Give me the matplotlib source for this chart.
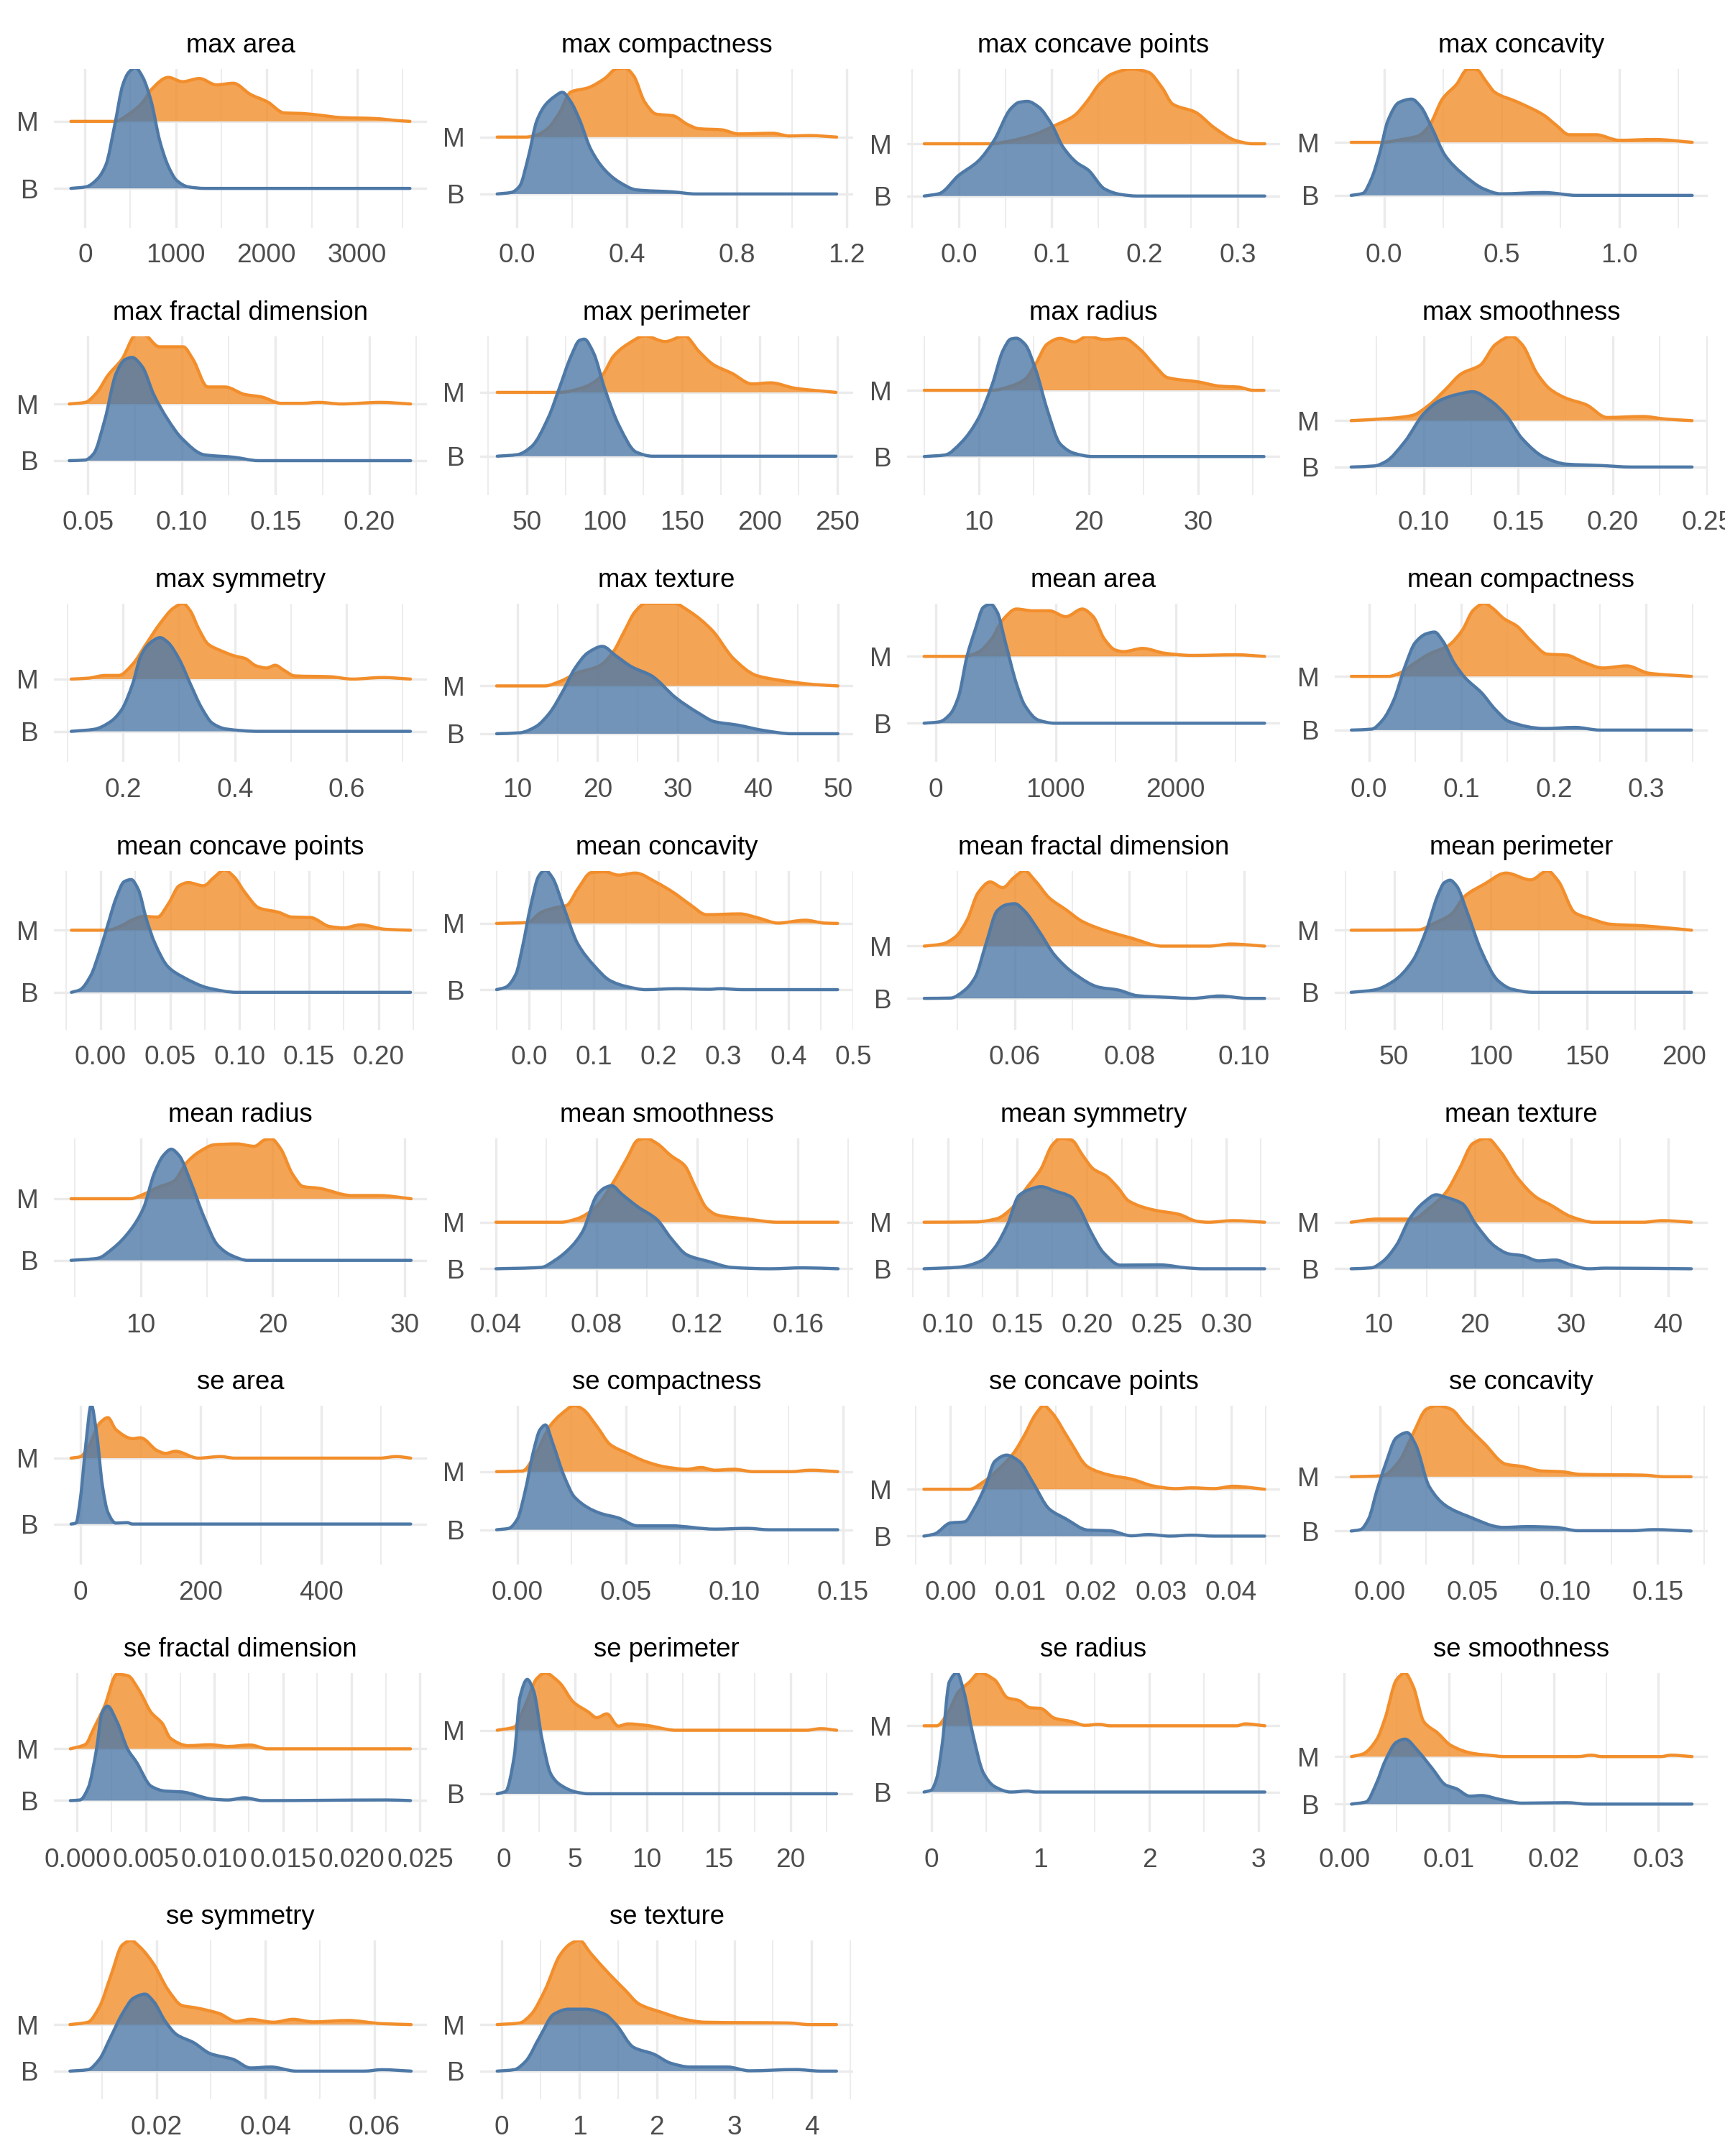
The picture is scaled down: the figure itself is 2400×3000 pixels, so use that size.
import matplotlib
matplotlib.use('Agg')
import matplotlib.pyplot as plt
from matplotlib.patches import PathPatch
from matplotlib.path import Path
import numpy as np

plt.rcParams['font.family'] = ['Liberation Sans', 'DejaVu Sans']

# panel keys in reading order
keys = ['max_area', 'max_compactness', 'max_concave_points', 'max_concavity',
        'max_fractal_dimension', 'max_perimeter', 'max_radius', 'max_smoothness',
        'max_symmetry', 'max_texture', 'mean_area', 'mean_compactness',
        'mean_concave_points', 'mean_concavity', 'mean_fractal_dimension', 'mean_perimeter',
        'mean_radius', 'mean_smoothness', 'mean_symmetry', 'mean_texture',
        'se_area', 'se_compactness', 'se_concave_points', 'se_concavity',
        'se_fractal_dimension', 'se_perimeter', 'se_radius', 'se_smoothness',
        'se_symmetry', 'se_texture']

xlims = [(-343, 3767), (-.134, 1.223), (-.0555, .3455), (-.21, 1.376),
         (.0318, .2307), (20, 260), (3.43, 37.47), (.0529, .2503),
         (.076, .7435), (5.34, 51.9), (-238, 2870), (-.037, .3666),
         (-.0336, .2348), (-.0754, .5), (.0412, .1063), (19.3, 212.4),
         (3.4, 31.7), (.0337, .182), (.0708, .3387), (5.5, 44.1),
         (-44, 576), (-.0172, .1547), (-.0062, .047), (-.0243, .177),
         (-.0017, .0255), (-1.62, 24.35), (-.222, 3.2), (-.0009, .0347),
         (.00115, .0697), (-.28, 4.535)]

tick_labels = [['0', '1000', '2000', '3000'], ['0.0', '0.4', '0.8', '1.2'],
               ['0.0', '0.1', '0.2', '0.3'], ['0.0', '0.5', '1.0'],
               ['0.05', '0.10', '0.15', '0.20'], ['50', '100', '150', '200', '250'],
               ['10', '20', '30'], ['0.10', '0.15', '0.20', '0.25'],
               ['0.2', '0.4', '0.6'], ['10', '20', '30', '40', '50'],
               ['0', '1000', '2000'], ['0.0', '0.1', '0.2', '0.3'],
               ['0.00', '0.05', '0.10', '0.15', '0.20'], ['0.0', '0.1', '0.2', '0.3', '0.4', '0.5'],
               ['0.06', '0.08', '0.10'], ['50', '100', '150', '200'],
               ['10', '20', '30'], ['0.04', '0.08', '0.12', '0.16'],
               ['0.10', '0.15', '0.20', '0.25', '0.30'], ['10', '20', '30', '40'],
               ['0', '200', '400'], ['0.00', '0.05', '0.10', '0.15'],
               ['0.00', '0.01', '0.02', '0.03', '0.04'], ['0.00', '0.05', '0.10', '0.15'],
               ['0.000', '0.005', '0.010', '0.015', '0.020', '0.025'], ['0', '5', '10', '15', '20'],
               ['0', '1', '2', '3'], ['0.00', '0.01', '0.02', '0.03'],
               ['0.02', '0.04', '0.06'], ['0', '1', '2', '3', '4']]

# baselines of the ridges, % of panel height
m_base = [66.8, 56.9, 52.7, 53.6, 57.2, 64.5, 65.8, 46.7, 52.3, 48.0,
          66.6, 54.0, 62.5, 66.8, 52.5, 62.5, 62.0, 47.2, 47.2, 47.2,
          67.0, 58.5, 47.4, 55.3, 52.3, 64.0, 66.8, 47.4, 47.0, 47.0]
b_base = [24.6, 21.1, 19.8, 20.2, 21.5, 24.3, 24.1, 17.5, 19.4, 17.9,
          24.5, 20.2, 23.4, 25.1, 19.6, 23.4, 23.2, 17.9, 17.9, 17.9,
          25.5, 21.9, 17.9, 21.1, 19.7, 24.0, 25.1, 17.5, 17.7, 17.7]

# ridge curves: x in data units, h in % of panel height above baseline
max_area_m_x = [-156, 324, 511, 636, 730, 917, 1073, 1260, 1447, 1634, 1822, 2009, 2196, 2383, 2570, 2820, 3194, 3443, 3580]
max_area_m_h = [0, 0, 5.7, 12, 20, 27.7, 25, 27, 23, 24, 17, 12.3, 5.3, 5, 4, 2.4, 1.8, .5, 0]
max_area_b_x = [-156, 12, 137, 231, 324, 418, 480, 555, 636, 730, 823, 917, 1010, 1135, 1322, 3580]
max_area_b_h = [0, 1, 6, 15, 39, 65.5, 73, 76, 70, 54.5, 30, 14, 5, 1, 0, 0]

max_compactness_m_x = [-.072, .031, .072, .114, .155, .196, .258, .32, .362, .393, .424, .465, .506, .568, .62, .661, .744, .806, .93, .992, 1.064, 1.163]
max_compactness_m_h = [0, 0, 1.3, 5.7, 15.4, 28.4, 31, 37, 43, 43.5, 38.7, 22, 14.5, 13.4, 8, 5.3, 4.6, 2, 2.4, .7, 1, 0]
max_compactness_b_x = [-.072, -.02, .01, .041, .072, .103, .134, .165, .196, .227, .269, .32, .372, .434, .568, .651, 1.163]
max_compactness_b_h = [0, 1, 5, 23, 46, 56, 61, 64, 58, 47, 28, 15, 7.5, 2.6, 1.3, 0, 0]

max_concave_points_m_x = [-.037, .035, .053, .08, .103, .124, .139, .151, .165, .186, .204, .219, .23, .254, .275, .298, .316, .329]
max_concave_points_m_h = [0, 0, 1.5, 5.5, 11.4, 17.6, 27.5, 37.4, 44, 47, 45, 35, 25, 20, 10, 2, 0, 0]
max_concave_points_b_x = [-.037, -.021, 0, .021, .038, .056, .065, .074, .086, .1, .112, .127, .139, .157, .174, .192, .329]
max_concave_points_b_h = [0, 1.5, 13, 22, 35, 55, 59, 59.6, 56, 45, 31, 21, 16.5, 4.4, 1, 0, 0]

max_concavity_m_x = [-.14, -.007, .075, .145, .19, .25, .308, .355, .39, .437, .47, .565, .68, .73, .787, .9, 1.0, 1.15, 1.31]
max_concavity_m_h = [0, 0, 1.8, 4, 10, 27.7, 36.5, 46, 46, 37.6, 31.6, 25.5, 17, 11, 4.8, 4.8, 1.3, 1.8, 0]
max_concavity_b_x = [-.14, -.09, -.054, -.02, .016, .063, .117, .157, .2, .26, .33, .425, .495, .68, .82, 1.31]
max_concavity_b_h = [0, 1.3, 10.5, 26, 47, 58.5, 60.6, 55.6, 43.5, 25, 14, 4, 1, 1.8, 0, 0]

max_fractal_dimension_m_x = [.04, .0485, .0546, .0606, .068, .0758, .0795, .088, .094, .1007, .106, .1138, .123, .1335, .1426, .153, .164, .173, .185, .206, .222]
max_fractal_dimension_m_h = [0, 1, 7, 18, 28, 43.7, 43.7, 36, 36, 36, 28, 10.7, 10.7, 6, 4.4, .4, .4, 1, 0, 1, 0]
max_fractal_dimension_b_x = [.04, .0485, .053, .059, .065, .0697, .0734, .079, .085, .0925, .1, .112, .1275, .141, .222]
max_fractal_dimension_b_h = [0, .4, 4.4, 26, 55, 63.6, 65, 59, 41.7, 26, 14, 3.7, 2.2, 0, 0]

max_perimeter_m_x = [31, 71, 87.6, 98.5, 106, 115, 126, 139, 151.5, 160.6, 170, 182, 195, 207, 222.6, 249]
max_perimeter_m_h = [0, 0, 3.5, 10.7, 23, 30.4, 35.5, 32, 35.5, 26, 17.5, 12, 5.3, 6, 2.6, 0]
max_perimeter_b_x = [31, 44, 53, 64, 71, 78.5, 84, 87, 93, 100, 109.5, 120.4, 131, 249]
max_perimeter_b_h = [0, 1, 6, 24.6, 43, 63, 73, 73.7, 65, 43, 19, 2.6, 0, 0]

max_radius_m_x = [5, 11.2, 12.9, 14.2, 15.2, 16.2, 17.4, 18.7, 19.9, 21.4, 23.2, 24.7, 26, 27.2, 30, 32, 33.7, 35, 36]
max_radius_m_h = [0, 0, 2.6, 7, 17, 29, 32.7, 30.5, 34, 32, 32.7, 25.7, 15.8, 8, 5.3, 2.6, 2, 0, 0]
max_radius_b_x = [5, 6.9, 8.4, 9.9, 11.2, 12.2, 12.9, 13.4, 14.2, 15.2, 16.2, 17.4, 18.7, 20.4, 36]
max_radius_b_h = [0, 1, 9, 23.5, 45.4, 67, 74, 74.5, 70.6, 54, 30, 8, 2, 0, 0]

max_smoothness_m_x = [.0616, .0826, .094, .103, .1116, .12, .13, .138, .1465, .152, .16, .167, .1756, .186, .197, .216, .228, .242]
max_smoothness_m_h = [0, 1.5, 3.3, 10, 19.7, 29.6, 35, 48, 53, 48, 29.6, 19.7, 14, 10, 2, 2.6, 1, 0]
max_smoothness_b_x = [.0616, .074, .08, .09, .1, .1087, .1174, .126, .135, .1436, .152, .164, .1756, .193, .21, .242]
max_smoothness_b_h = [0, .7, 3.5, 16, 33.5, 42, 45.6, 47.4, 42, 32.5, 18, 6, 1.8, 1, 0, 0]

max_symmetry_m_x = [.107, .138, .168, .192, .217, .241, .266, .29, .307, .32, .335, .352, .374, .4, .418, .438, .457, .472, .487, .507, .57, .61, .664, .714]
max_symmetry_m_h = [0, .6, 2.3, 2.3, 9.4, 22, 35, 44.7, 47.6, 43, 31.7, 22, 18, 14.5, 13, 8.3, 7, 8.7, 5.7, 2, 1.5, 0, 1, 0]
max_symmetry_b_x = [.107, .148, .177, .197, .217, .231, .246, .266, .28, .3, .32, .34, .36, .384, .443, .714]
max_symmetry_b_h = [0, 1.3, 6, 13.5, 30, 47, 55, 59, 56, 45.5, 30, 15, 5, 1.5, 0, 0]

max_texture_m_x = [7.4, 13.4, 15.4, 17.5, 20.2, 21.9, 23.3, 24.7, 26, 29.5, 31.5, 34.3, 37, 39.8, 42.2, 47, 50]
max_texture_m_h = [0, 0, 3, 8.3, 12.5, 21, 34, 46.8, 52, 52, 46.8, 35, 17, 6.6, 4, .9, 0]
max_texture_b_x = [7.4, 10.3, 12.3, 14, 15.8, 17.1, 18.8, 20.6, 22.3, 24.3, 26.7, 29.8, 32.6, 34.6, 37.4, 40.8, 44.2, 50]
max_texture_b_h = [0, .6, 4.5, 13, 28, 40.6, 51, 55, 49, 42, 36.6, 22.5, 13, 7.6, 5.5, 2, 0, 0]

mean_area_m_x = [-96, 238, 352, 467, 558, 673, 810, 947, 1085, 1222, 1313, 1405, 1497, 1565, 1725, 1908, 2137, 2503, 2741]
mean_area_m_h = [0, 0, 2.5, 11, 22.8, 29.8, 28.7, 28.7, 25, 29.8, 25, 11, 4, 3, 5, 2, .6, 1, 0]
mean_area_b_x = [-96, 32, 124, 192, 261, 330, 398, 458, 513, 581, 673, 741, 856, 993, 2741]
mean_area_b_h = [0, .9, 6, 17, 42, 59, 73, 75, 70, 51, 25, 11.5, 2, 0, 0]

mean_compactness_m_x = [-.019, .021, .036, .048, .065, .086, .101, .113, .125, .134, .146, .16, .175, .193, .214, .232, .253, .279, .303, .349]
mean_compactness_m_h = [0, 0, 2.8, 7.7, 14, 19.4, 29, 41.7, 46, 42.8, 36.4, 31.7, 22.5, 14, 13.4, 9, 5.3, 6.6, 2, 0]
mean_compactness_b_x = [-.019, .003, .015, .027, .039, .05, .062, .071, .08, .092, .104, .122, .137, .152, .19, .223, .25, .349]
mean_compactness_b_h = [0, .6, 6.4, 19, 40, 55, 60.6, 61.7, 56, 42.5, 33, 23.4, 12.8, 5.3, 1, 1.7, 0, 0]

mean_concave_points_m_x = [-.021, .005, .015, .023, .031, .041, .049, .0565, .063, .074, .082, .089, .096, .104, .114, .128, .1375, .151, .165, .175, .187, .205, .223]
mean_concave_points_m_h = [0, 0, 2.8, 6.6, 8.7, 8.3, 17, 28, 30, 28, 33.6, 38, 33.6, 23.6, 14, 11.3, 8.3, 8, 2.3, 1.5, 3.4, .6, 0]
mean_concave_points_b_x = [-.021, -.015, -.007, -.001, .005, .011, .017, .022, .027, .033, .039, .0486, .0585, .078, .098, .223]
mean_concave_points_b_h = [0, 1.5, 10.7, 25, 42, 59, 69.7, 71, 65, 46, 31, 16, 10, 2.6, 0, 0]

mean_concavity_m_x = [-.05, -.002, .019, .04, .058, .075, .096, .117, .138, .164, .197, .223, .248, .274, .325, .354, .384, .426, .456, .476]
mean_concavity_m_h = [0, .6, 7, 9.8, 11.3, 21.5, 32, 32.5, 30.4, 31.7, 25.7, 19.4, 12, 5.5, 6, 3.4, .2, 2, .2, 0]
mean_concavity_b_x = [-.05, -.036, -.02, -.01, .0025, .015, .025, .036, .053, .075, .1, .125, .15, .18, .227, .278, .295, .329, .476]
mean_concavity_b_h = [0, 1.5, 10, 27, 52.5, 71.5, 75.3, 70.6, 52.5, 29, 15.3, 5.7, 2, 0, .6, .2, .6, 0, 0]

mean_fractal_dimension_m_x = [.0442, .0473, .0497, .0517, .0536, .0557, .0579, .0598, .0617, .0636, .066, .0689, .0718, .0756, .0804, .0857, .0939, .0977, .1036]
mean_fractal_dimension_m_h = [0, 1.3, 6, 16.6, 33.6, 40.4, 36.8, 43, 47.4, 41, 30.4, 23, 15.5, 10, 5, 0, 0, 1.3, 0]
mean_fractal_dimension_b_x = [.0442, .0488, .0512, .0531, .055, .0569, .0586, .06, .0617, .0641, .067, .0704, .0747, .078, .0814, .0871, .091, .0958, .1006, .1036]
mean_fractal_dimension_b_h = [0, .2, 5, 13.4, 34.7, 55, 59, 59.6, 55, 43, 27, 15.5, 7, 5.3, 1.7, .6, 0, 1.5, 0, 0]

mean_perimeter_m_x = [27.8, 62.5, 71, 79.6, 86.7, 96.7, 108, 120.8, 129.4, 135, 143.6, 152, 162, 179, 193, 204]
mean_perimeter_m_h = [0, .2, 4.5, 10, 21.5, 29, 36, 31.7, 37.4, 31, 11, 7.2, 3.8, 2.8, 1.3, 0]
mean_perimeter_b_x = [27.8, 39.8, 49.7, 59.7, 66.8, 72.5, 76, 79, 82.4, 88, 95, 103.8, 111, 122, 204]
mean_perimeter_b_h = [0, 1.5, 7, 20, 39.4, 60.6, 69, 70.6, 67, 50, 26.6, 7.4, 2, 0, 0]

mean_radius_m_x = [4.7, 9.2, 10.2, 11.25, 12.5, 13.5, 14.4, 15.6, 17.3, 18.6, 19.4, 19.9, 20.6, 21.5, 22.3, 23.5, 26, 28.1, 30.5]
mean_radius_m_h = [0, 0, 2.8, 7, 11, 23, 29.4, 34, 34.5, 33, 37, 37.6, 31.5, 15.5, 7.7, 6.6, 2, 2, 0]
mean_radius_b_x = [4.7, 6.7, 7.9, 9.2, 10.2, 11, 11.7, 12.3, 12.9, 13.75, 14.8, 15.8, 16.9, 18.1, 30.5]
mean_radius_b_h = [0, 1.3, 7.7, 19, 33, 54.5, 66, 70, 66, 50, 27, 9.8, 3, 0, 0]

mean_smoothness_m_x = [.04, .0658, .0724, .08, .0866, .092, .0964, .0997, .104, .1095, .115, .1193, .1237, .128, .14, .152, .176]
mean_smoothness_m_h = [0, 0, 2.3, 10, 25, 40, 51.7, 52.8, 49.6, 42, 35.7, 22, 9, 4.5, 2, 0, 0]
mean_smoothness_b_x = [.04, .058, .0636, .07, .0745, .08, .0833, .086, .09, .0964, .104, .1095, .116, .1248, .1335, .149, .162, .176]
mean_smoothness_b_h = [0, .9, 5.5, 14, 23.6, 46, 51, 52.3, 47, 39, 31, 19.4, 8.7, 4.5, .9, 0, .6, 0]

mean_symmetry_m_x = [.083, .12, .1355, .145, .157, .167, .175, .181, .189, .197, .2045, .214, .222, .23, .248, .266, .279, .287, .305, .3276]
mean_symmetry_m_h = [0, .2, 2.3, 8, 22, 33.6, 48.5, 52.8, 51.7, 42, 33.6, 29, 22, 13.4, 7.7, 5, .6, 0, 1, 0]
mean_symmetry_b_x = [.083, .108, .124, .1335, .143, .151, .159, .167, .177, .189, .195, .2026, .212, .224, .252, .2716, .2834, .3276]
mean_symmetry_b_h = [0, 1, 5, 13, 28, 46, 50, 51.7, 49, 45, 37.4, 23.6, 10, 2.3, 2.5, .6, 0, 0]

mean_texture_m_x = [7.2, 9.9, 13.6, 15.3, 17, 18.4, 19.8, 21.25, 22.7, 24.4, 26.4, 27.8, 30, 32.3, 37.4, 39.4, 42.4]
mean_texture_m_h = [0, 2, 2, 9, 18.7, 33.6, 49.6, 52.8, 44, 28, 15.5, 11, 3.4, 0, 0, 1, 0]
mean_texture_b_x = [7.2, 9.3, 10.45, 11.9, 13.3, 14.7, 16, 17, 18.7, 20.1, 22.1, 23.5, 24.9, 26.6, 28.35, 30, 31.8, 33.5, 42.4]
mean_texture_b_h = [0, .6, 4.5, 15, 32, 41.7, 46.6, 45, 41, 28, 14, 9.4, 8.3, 5, 5.5, 2.3, 0, .4, 0]

se_area_m_x = [-15.5, 0, 13.7, 32, 45.7, 59, 86.8, 100, 127.9, 141.6, 158, 196, 233, 256, 498, 525, 549]
se_area_m_h = [0, .9, 7.4, 22, 25.5, 18, 12.3, 12.8, 4.7, 3, 4.3, 0, 1, 0, 0, 1, 0]
se_area_b_x = [-15.5, -7.3, 0, 9, 18, 27.4, 36.5, 45.7, 59, 77.6, 86.8, 549]
se_area_b_h = [0, .6, 16, 50, 75, 56, 24.5, 7.4, .6, .9, 0, 0]

se_compactness_m_x = [-.0096, .0023, .0086, .015, .02, .0263, .03, .0365, .0428, .0504, .059, .068, .078, .0846, .091, .0997, .1086, .126, .135, .1476]
se_compactness_m_h = [0, .4, 11.7, 28.7, 36, 41.5, 39.4, 28.7, 17, 11.7, 6.4, 3, 1.5, 2.6, .9, 1.5, 0, 0, .9, 0]
se_compactness_b_x = [-.0096, -.004, 0, .0035, .0073, .0104, .0129, .0162, .0213, .0263, .0377, .0466, .0554, .0706, .091, .106, .116, .1476]
se_compactness_b_h = [0, .9, 6.8, 24, 49, 63, 66, 54.7, 34.5, 20.6, 10.6, 7.4, 2.5, 2.5, .4, .9, 0, 0]

se_concave_points_m_x = [-.0038, .0027, .0047, .0067, .009, .0106, .0121, .0133, .0145, .0168, .0196, .0227, .0258, .029, .0321, .0344, .0376, .0403, .0448]
se_concave_points_m_h = [0, 0, 4.7, 12, 22.8, 34.5, 47, 52.6, 48, 32, 14, 8.9, 6.4, 2, .4, .9, .4, 1.9, 0]
se_concave_points_b_x = [-.0038, -.0023, 0, .002, .0035, .0051, .0063, .008, .0098, .0117, .0141, .0164, .0196, .0227, .0258, .0282, .0313, .0344, .0376, .0448]
se_concave_points_b_h = [0, 1.3, 8.3, 9, 18.3, 33, 47, 51, 47, 34, 17, 11, 3.8, 3.4, .2, 1, 0, .6, 0, 0]

se_concavity_m_x = [-.0154, .0015, .0104, .0178, .0252, .0311, .0385, .046, .0563, .068, .077, .0875, .0978, .108, .142, .154, .168]
se_concavity_m_h = [0, .6, 9.6, 26.6, 42.5, 44.7, 42.5, 33, 21, 7.9, 6.4, 3.6, 3.2, 1.5, 1, 0, 0]
se_concavity_b_x = [-.0154, -.0104, -.006, -.0015, .003, .0089, .0148, .0193, .0267, .0356, .0474, .0667, .08, .095, .107, .136, .148, .168]
se_concavity_b_h = [0, .9, 7.7, 25.7, 41.7, 58.7, 62, 54.5, 28, 16, 9.4, 2.3, 2.8, 2.3, .2, .2, .9, 0]

se_fractal_dimension_m_x = [-.0005, .0006, .0012, .002, .0029, .0037, .0045, .0054, .0062, .0068, .0081, .0097, .011, .0126, .0139, .0243]
se_fractal_dimension_m_h = [0, 2.8, 12.7, 27, 47, 46, 37, 22.8, 16, 6.6, 2, 2.6, 1.5, 2.4, 0, 0]
se_fractal_dimension_b_x = [-.0005, .0002, .0008, .0014, .0018, .0022, .0029, .0037, .0043, .0054, .0064, .0076, .0099, .011, .0122, .0135, .0226, .0243]
se_fractal_dimension_b_h = [0, .4, 8, 32, 55, 59.5, 49.6, 32, 24.5, 9, 6, 5.5, .9, .4, 1.8, 0, .4, 0]

se_perimeter_m_x = [-.43, .75, 1.54, 2.33, 2.9, 3.9, 4.9, 5.9, 6.5, 7.2, 8, 8.66, 10, 12, 21.1, 22.1, 23.2]
se_perimeter_m_h = [0, 2, 16, 32.6, 36, 30, 17.5, 11.6, 7.9, 10.3, 2.6, 4, 3, 0, 0, 1, 0]
se_perimeter_b_x = [-.43, .16, .75, 1.15, 1.66, 2.1, 2.7, 3.3, 3.9, 5.1, 5.9, 23.2]
se_perimeter_b_h = [0, 1.5, 23.4, 60.6, 72, 65, 34, 12.5, 6, 1, 0, 0]

se_radius_m_x = [-.066, .05, .15, .25, .35, .44, .58, .7, .8, .91, 1, 1.13, 1.29, 1.41, 1.54, 1.64, 2.8, 2.88, 3.06]
se_radius_m_h = [0, 0, 7.8, 21.4, 27.5, 33.3, 29, 17.6, 16, 11.3, 11, 4.8, 2.6, .3, .9, 0, 0, 1.2, 0]
se_radius_b_x = [-.066, 0, .05, .1, .166, .237, .3, .378, .48, .58, .73, .88, .96, 3.06]
se_radius_b_h = [0, 1.2, 8.7, 30, 69.4, 75, 63, 37.4, 11.8, 3.5, 0, .6, 0, 0]

se_smoothness_m_x = [.0007, .0018, .0031, .0039, .005, .0058, .0066, .0076, .0089, .0102, .0123, .0144, .0152, .0223, .0236, .0246, .0302, .0312, .0332]
se_smoothness_m_h = [0, 1.7, 10.7, 24, 48.4, 52.6, 44, 22, 15, 7, 2, .5, 0, 0, .9, 0, 0, .9, 0]
se_smoothness_b_x = [.0007, .0021, .0031, .0039, .005, .0058, .0071, .0084, .0097, .0107, .012, .0131, .0149, .017, .0212, .0233, .0332]
se_smoothness_b_h = [0, 1.4, 13.4, 27, 39, 40.9, 33, 22.5, 12, 9.7, 5, 5.4, 2.9, .6, .9, 0, 0]

se_symmetry_m_x = [.0041, .0074, .0095, .0116, .0137, .0153, .0169, .0195, .0221, .0247, .0273, .0315, .0347, .0373, .0415, .0451, .0488, .0551, .0614, .0668]
se_symmetry_m_h = [0, 1.5, 11, 30.6, 50, 53, 49, 38, 22, 12, 10.5, 7, 2, 3.3, 1.5, 3.3, 1.7, 2.6, .6, 0]
se_symmetry_b_x = [.0041, .0074, .0095, .0116, .0137, .0158, .0179, .0195, .0216, .0237, .0268, .0299, .0341, .0373, .041, .0457, .0582, .0614, .0668]
se_symmetry_b_h = [0, .9, 7.4, 21.6, 36, 46, 48.5, 43.7, 31.4, 23, 18, 11, 7.4, 2, 2.6, 0, 0, .9, 0]

se_texture_m_x = [-.06, .23, .38, .56, .75, .89, 1, 1.15, 1.37, 1.59, 1.77, 2.07, 2.36, 2.62, 3.71, 3.97, 4.32]
se_texture_m_h = [0, 1, 6.5, 22, 43.7, 51, 53, 44.7, 32.7, 21.8, 13, 7.6, 3.3, 1.5, 1, 0, 0]
se_texture_b_x = [-.06, .16, .31, .49, .67, .86, 1.08, 1.33, 1.48, 1.7, 1.96, 2.18, 2.43, 2.91, 3.2, 3.79, 4.12, 4.32]
se_texture_b_h = [0, .9, 6.3, 21.6, 35.8, 39, 39, 35.8, 29, 15, 10.7, 5, 2.6, 2.6, .2, 1, 0, 0]

orange = '#F28E2B'
blue = '#4E79A7'
grid_col = '#EBEBEB'

W, H = 2400, 3000


def ridge_path(x, y, base=None):
    # smooth bezier through the read points, flat at local peaks so it never overshoots
    x, y = np.asarray(x, float), np.asarray(y, float)
    dx = np.diff(x)
    slope = np.diff(y) / dx
    tan = np.zeros_like(y)
    tan[0], tan[-1] = slope[0], slope[-1]
    for k in range(1, len(y) - 1):
        if slope[k - 1] * slope[k] > 0:
            w1, w2 = 2 * dx[k] + dx[k - 1], dx[k] + 2 * dx[k - 1]
            tan[k] = (w1 + w2) / (w1 / slope[k - 1] + w2 / slope[k])
    verts = [(x[0], y[0])]
    codes = [Path.MOVETO]
    for k in range(len(dx)):
        verts += [(x[k] + dx[k] / 3, y[k] + tan[k] * dx[k] / 3),
                  (x[k + 1] - dx[k] / 3, y[k + 1] - tan[k + 1] * dx[k] / 3),
                  (x[k + 1], y[k + 1])]
        codes += [Path.CURVE4] * 3
    if base is not None:
        verts += [(x[-1], base), (x[0], base), (x[0], y[0])]
        codes += [Path.LINETO, Path.LINETO, Path.CLOSEPOLY]
    return Path(verts, codes)


fig = plt.figure(figsize=(8, 10), dpi=300)

# layout in pixels, measured on the reference
col_left = [75, 668, 1262, 1857]
panel_w = 519
row_top = [95.5, 467.5, 839.5, 1211.5, 1584, 1956, 2328, 2700]
panel_h = 221

for i, key in enumerate(keys):
    row, col = divmod(i, 4)
    ax = fig.add_axes([col_left[col] / W, 1 - (row_top[row] + panel_h) / H, panel_w / W, panel_h / H])

    for side, colour in (('m', orange), ('b', blue)):
        x = globals()[f'{key}_{side}_x']
        h = np.array(globals()[f'{key}_{side}_h'])
        base = m_base[i] if side == 'm' else b_base[i]
        ax.add_patch(PathPatch(ridge_path(x, base + h, base), facecolor=colour, alpha=0.8, lw=0, zorder=3))
        ax.add_patch(PathPatch(ridge_path(x, base + h), facecolor='none', edgecolor=colour, lw=1.05,
                               joinstyle='round', capstyle='round', zorder=3))

    ax.set_xlim(*xlims[i])
    ax.set_ylim(0, 100)

    # ticks come from the labels, minor grid sits half way between them
    major = np.array([float(t) for t in tick_labels[i]])
    step = major[1] - major[0]
    minor = np.arange(major[0] - step / 2, xlims[i][1], step)
    minor = minor[minor > xlims[i][0]]
    ax.set_xticks(major)
    ax.set_xticklabels(tick_labels[i])
    ax.set_xticks(minor, minor=True)
    ax.set_yticks([b_base[i], m_base[i]])
    ax.set_yticklabels(['B', 'M'])

    ax.grid(True, which='major', color=grid_col, lw=0.8)
    ax.grid(True, which='minor', axis='x', color=grid_col, lw=0.45)
    ax.set_axisbelow(True)
    ax.tick_params(which='both', length=0)
    ax.tick_params(axis='x', labelsize=8.9, labelcolor='#4D4D4D', pad=5.2)
    ax.tick_params(axis='y', labelsize=8.9, labelcolor='#4D4D4D', pad=5.2)
    for spine in ax.spines.values():
        spine.set_visible(False)
    ax.set_xlim(*xlims[i])

    ax.set_title(key.replace('_', ' '), fontsize=8.75, color='black', pad=5.5)

plt.savefig('out.png', dpi=300, facecolor='white')
